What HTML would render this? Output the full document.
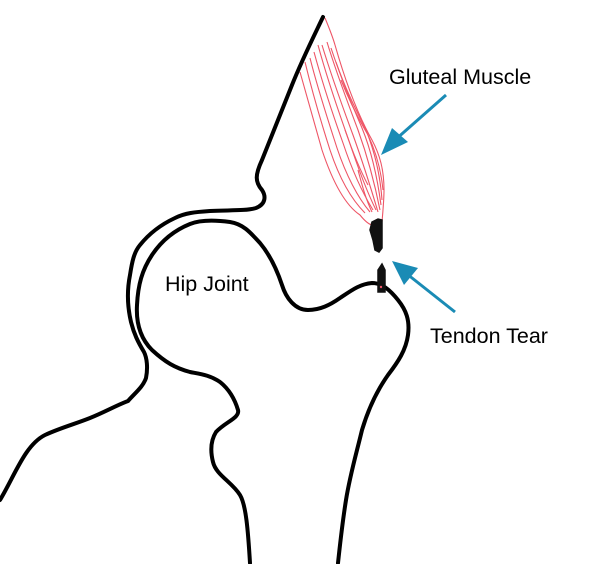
<!DOCTYPE html>
<html><head><style>
html,body{margin:0;padding:0;background:#fff;}
svg{display:block;}
text{font-family:"Liberation Sans",Arial,sans-serif;fill:#000;}
</style></head><body>
<svg width="600" height="564" viewBox="0 0 600 564" xmlns="http://www.w3.org/2000/svg">
<g fill="none" stroke="#000" stroke-width="4" stroke-linecap="round" stroke-linejoin="round">
<path d="M0,500 C15,475 25,445 45,435 C60,428 75,424 90,418 C105,412 115,406 128,401 C135,393 143,387 146,378 C148,368 147,358 144,352 C138,342 134,334 131,322 C127,305 127,290 130,275 C132,262 134,252 140,245 C148,235 160,225 175,218 C185,213 195,212 210,211 C230,210 245,211 256,208 C266,204 266,196 262,190 C255,182 255,175 262,160 C270,140 280,115 292,85 C302,60 312,40 323,17"/>
<path d="M250,563 C248,530 246,505 240,495 C232,482 216,475 213,462 C210,450 211,440 216,432 C225,422 240,418 238,410 C235,400 230,390 220,382 C210,375 200,374 190,372 C175,368 165,362 152,350 C140,338 136,322 137,305 C138,285 142,270 152,255 C162,240 175,230 190,224 C200,220 215,220 230,222 C243,224 250,232 260,243 C270,255 277,270 282,285 C286,298 295,310 308,310 C320,310 330,305 340,298 C352,290 360,284 372,283 C382,283 390,290 398,300 C406,310 410,320 408,335 C406,350 398,362 388,375 C376,392 368,410 362,430 C356,455 350,475 346,500 C342,525 340,545 338,563"/>
</g>
<g fill="none" stroke="#ee5566" stroke-width="1.1">
<path d="M325,18 C330,30 333,38 335,45 C345,80 358,115 372,140 C380,155 384,170 384,190 C384,200 383,210 382,222"/>
<path d="M300,72 C308,100 315,125 322,150 C332,180 345,205 360,215 C364,220 368,224 372,225"/>
<path d="M305,62 C313,95 322,125 330,150 C340,180 352,200 365,213"/>
<path d="M310,58 C318,90 328,120 337,148 C346,175 358,198 370,212"/>
<path d="M314,52 C323,85 333,115 343,143 C352,170 362,192 373,210"/>
<path d="M318,45 C327,78 338,110 348,138 C357,165 366,190 376,210"/>
<path d="M322,45 C332,78 343,108 353,135 C362,160 370,185 378,212"/>
<path d="M327,42 C337,75 348,103 358,130 C367,155 374,180 380,210"/>
<path d="M331,48 C341,78 352,105 362,128 C371,150 377,175 381,205"/>
<path d="M336,62 C345,88 356,110 366,130 C374,150 380,172 382,200"/>
<path d="M341,80 C349,100 358,118 368,135 C376,152 381,170 383,190"/>
<path d="M345,130 C352,150 360,170 368,185"/>
<path d="M358,170 C362,185 366,200 372,212"/>
</g>
<path d="M372,222 L378,219 L382,220 L382,248 L379,252 L375,250 L373,240 L370,230 Z" fill="#111" stroke="#111" stroke-width="1.5"/>
<path d="M378,270 L382,264 L385,270 L385,292 L378,292 Z" fill="#111" stroke="#111" stroke-width="1.5"/>
<circle cx="381" cy="287" r="1.2" fill="#ee5566"/>
<g stroke="#1a8bb5" fill="#1a8bb5">
<line x1="446" y1="95" x2="395" y2="140" stroke-width="3"/>
<polygon points="381,155 392,128 408,142" stroke="none"/>
<line x1="455" y1="312" x2="407" y2="274" stroke-width="3"/>
<polygon points="392,261 418,268 404,285" stroke="none"/>
</g>
<text x="389" y="84" font-size="21.5">Gluteal Muscle</text>
<text x="430" y="343" font-size="21.5">Tendon Tear</text>
<text x="165" y="291" font-size="21.5">Hip Joint</text>
</svg>
</body></html>
